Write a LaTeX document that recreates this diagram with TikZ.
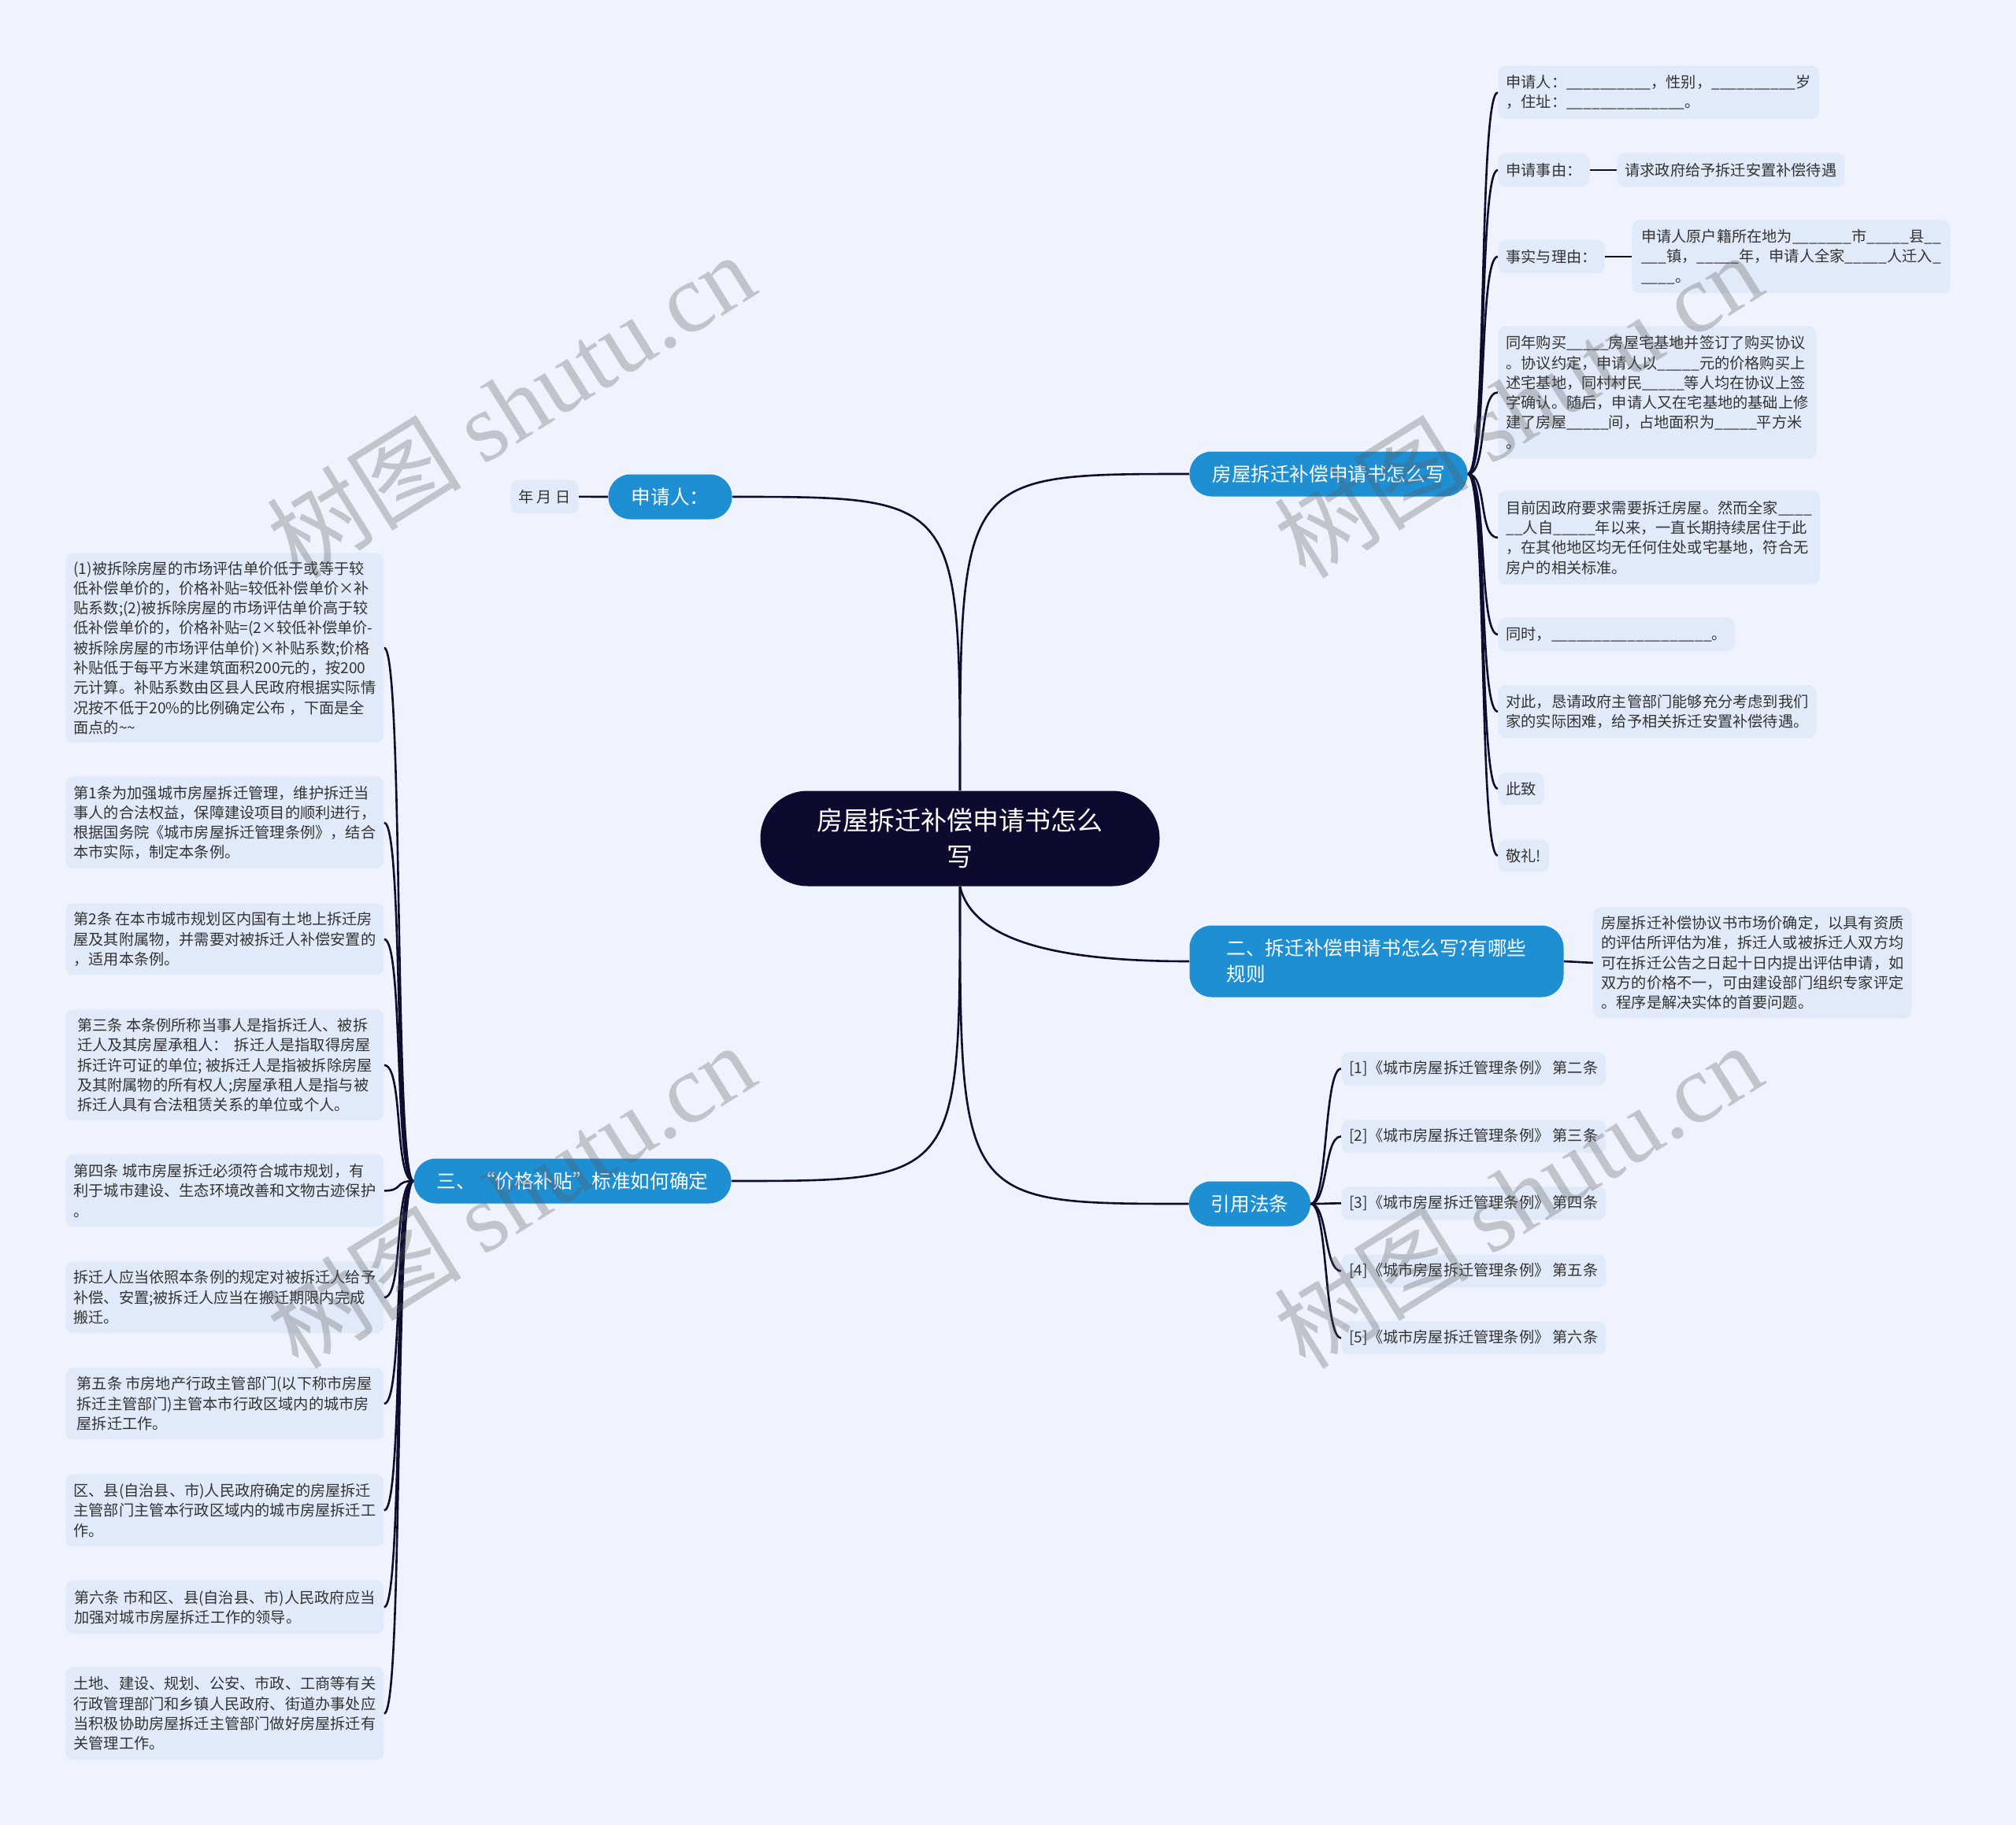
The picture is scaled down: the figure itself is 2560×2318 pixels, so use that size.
\documentclass[tikz,border=0pt]{standalone}
\usepackage{fontspec}
\setmainfont{Noto Sans CJK SC}
\newfontfamily\wmserif{Liberation Serif}
\ExplSyntaxOn
\NewDocumentCommand\blk{m}{\prg_replicate:nn{#1}{\_}}
\ExplSyntaxOff
\definecolor{bgc}{HTML}{EEF3FD}
\definecolor{leafc}{HTML}{E1EAF9}
\definecolor{bluec}{HTML}{1F8FD3}
\definecolor{rootc}{HTML}{0C0A2E}
\definecolor{wirec}{HTML}{0F0C2E}
\definecolor{txtc}{HTML}{333333}
\pgfdeclarelayer{bglayer}
\pgfdeclarelayer{edgelayer}
\pgfsetlayers{bglayer,edgelayer,main}
\tikzset{
 leaf/.style={fill=leafc, rounded corners=5pt, inner xsep=5pt, inner ysep=0pt, anchor=north west, align=left, text=txtc, font=\fontsize{9.6pt}{12.65pt}\selectfont},
 wide/.style={minimum width=202pt},
 branch/.style={fill=bluec, text=white, inner sep=0pt, font=\fontsize{12.3pt}{16.5pt}\selectfont, minimum height=28.5pt, rounded corners=14pt},
 rootnode/.style={fill=rootc, text=white, rounded corners=30pt, minimum width=253.5pt, minimum height=60.5pt, align=center, font=\fontsize{16.5pt}{23pt}\selectfont},
 wire/.style={draw=wirec, line width=1.3pt},
 wmark/.style={text=black!65, opacity=0.3, rotate=32, font=\fontsize{62pt}{62pt}\selectfont}
}
\begin{document}
\begin{tikzpicture}[x=0.5pt,y=-0.5pt]
\useasboundingbox (0,0) rectangle (2560,2318);
\begin{pgfonlayer}{bglayer}
\fill[bgc] (0,0) rectangle (2560,2318);
\end{pgfonlayer}

% root and branches
\node[rootnode] (root) at (1219,1065) {房屋拆迁补偿申请书怎么\\写};
\node[branch, minimum width=176.5pt] (b1) at (1687,602) {房屋拆迁补偿申请书怎么写};
\node[branch, minimum width=237.5pt, minimum height=45.5pt, align=left] (b2) at (1748,1221) {二、拆迁补偿申请书怎么写?有哪些\\规则};
\node[branch, minimum width=77pt] (b3) at (1587,1529) {引用法条};
\node[branch, minimum width=78.5pt] (b4) at (851,631) {申请人：};
\node[branch, minimum width=201.5pt] (b5) at (727,1500) {三、“价格补贴”标准如何确定};

% branch 1 leaves
\node[leaf, wide, minimum height=34pt] (a1) at (1902,83) {申请人：\blk{10}，性别，\blk{10}岁\\，住址：\blk{14}。};
\node[leaf, minimum height=21.5pt] (a2) at (1902,194) {申请事由：};
\node[leaf, minimum height=21.5pt] (a2c) at (2053,194) {请求政府给予拆迁安置补偿待遇};
\node[leaf, minimum height=21.5pt] (a3) at (1902,304) {事实与理由：};
\node[leaf, wide, minimum height=46.5pt] (a3c) at (2072,279) {申请人原户籍所在地为\blk{7}市\blk{5}县\blk{2}\\\blk{3}镇，\blk{5}年，申请人全家\blk{5}人迁入\blk{1}\\\blk{4}。};
\node[leaf, wide, minimum height=84pt] (a4) at (1902,414) {同年购买\blk{5}房屋宅基地并签订了购买协议\\。协议约定，申请人以\blk{5}元的价格购买上\\述宅基地，同村村民\blk{5}等人均在协议上签\\字确认。随后，申请人又在宅基地的基础上修\\建了房屋\blk{5}间，占地面积为\blk{5}平方米\\。};
\node[leaf, wide, minimum height=59.5pt] (a5) at (1902,623) {目前因政府要求需要拆迁房屋。然而全家\blk{4}\\\blk{2}人自\blk{5}年以来，一直长期持续居住于此\\，在其他地区均无任何住处或宅基地，符合无\\房户的相关标准。};
\node[leaf, minimum height=21.5pt] (a6) at (1902,784) {同时，\blk{19}。};
\node[leaf, wide, minimum height=33.5pt] (a7) at (1902,870) {对此，恳请政府主管部门能够充分考虑到我们\\家的实际困难，给予相关拆迁安置补偿待遇。};
\node[leaf, minimum height=20.5pt] (a8) at (1902,981) {此致};
\node[leaf, minimum height=20.5pt] (a9) at (1902,1066) {敬礼!};

% branch 2 leaf
\node[leaf, wide, minimum height=70.5pt] (c1) at (2023,1152) {房屋拆迁补偿协议书市场价确定，以具有资质\\的评估所评估为准，拆迁人或被拆迁人双方均\\可在拆迁公告之日起十日内提出评估申请，如\\双方的价格不一，可由建设部门组织专家评定\\。程序是解决实体的首要问题。};

% branch 3 leaves
\node[leaf, minimum height=21pt] (r1) at (1703,1336) {[1]《城市房屋拆迁管理条例》 第二条};
\node[leaf, minimum height=21pt] (r2) at (1703,1422) {[2]《城市房屋拆迁管理条例》 第三条};
\node[leaf, minimum height=21pt] (r3) at (1703,1507) {[3]《城市房屋拆迁管理条例》 第四条};
\node[leaf, minimum height=21pt] (r4) at (1703,1593) {[4]《城市房屋拆迁管理条例》 第五条};
\node[leaf, minimum height=21pt] (r5) at (1703,1678) {[5]《城市房屋拆迁管理条例》 第六条};

% branch 4 leaf
\node[leaf, minimum height=21.5pt] (yr) at (648,609) {年 月 日};

% branch 5 leaves
\node[leaf, wide, minimum height=120.5pt] (l1) at (83,702) {(1)被拆除房屋的市场评估单价低于或等于较\\低补偿单价的，价格补贴=较低补偿单价×补\\贴系数;(2)被拆除房屋的市场评估单价高于较\\低补偿单价的，价格补贴=(2×较低补偿单价-\\被拆除房屋的市场评估单价)×补贴系数;价格\\补贴低于每平方米建筑面积200元的，按200\\元计算。补贴系数由区县人民政府根据实际情\\况按不低于20\%的比例确定公布 ，下面是全\\面点的\textasciitilde\textasciitilde};
\node[leaf, wide, minimum height=58.5pt] (l2) at (83,986) {第1条为加强城市房屋拆迁管理，维护拆迁当\\事人的合法权益，保障建设项目的顺利进行，\\根据国务院《城市房屋拆迁管理条例》，结合\\本市实际，制定本条例。};
\node[leaf, wide, minimum height=45.5pt] (l3) at (83,1147) {第2条 在本市城市规划区内国有土地上拆迁房\\屋及其附属物，并需要对被拆迁人补偿安置的\\，适用本条例。};
\node[leaf, wide, minimum height=70.5pt] (l4) at (83,1282) {第三条 本条例所称当事人是指拆迁人、被拆\\迁人及其房屋承租人：\hspace{0.4em}拆迁人是指取得房屋\\拆迁许可证的单位; 被拆迁人是指被拆除房屋\\及其附属物的所有权人;房屋承租人是指与被\\拆迁人具有合法租赁关系的单位或个人。};
\node[leaf, wide, minimum height=46pt] (l5) at (83,1466) {第四条 城市房屋拆迁必须符合城市规划，有\\利于城市建设、生态环境改善和文物古迹保护\\。};
\node[leaf, wide, minimum height=45.5pt] (l6) at (83,1602) {拆迁人应当依照本条例的规定对被拆迁人给予\\补偿、安置;被拆迁人应当在搬迁期限内完成\\搬迁。};
\node[leaf, wide, minimum height=45.5pt] (l7) at (83,1737) {第五条 市房地产行政主管部门(以下称市房屋\\拆迁主管部门)主管本市行政区域内的城市房\\屋拆迁工作。};
\node[leaf, wide, minimum height=46pt] (l8) at (83,1872) {区、县(自治县、市)人民政府确定的房屋拆迁\\主管部门主管本行政区域内的城市房屋拆迁工\\作。};
\node[leaf, wide, minimum height=34pt] (l9) at (83,2007) {第六条 市和区、县(自治县、市)人民政府应当\\加强对城市房屋拆迁工作的领导。};
\node[leaf, wide, minimum height=59pt] (l10) at (83,2117) {土地、建设、规划、公安、市政、工商等有关\\行政管理部门和乡镇人民政府、街道办事处应\\当积极协助房屋拆迁主管部门做好房屋拆迁有\\关管理工作。};

% connectors
\begin{pgfonlayer}{edgelayer}
\draw[wire] (root.north) .. controls (root.north |- b1.west) .. (b1.west);
\draw[wire] (root.north) .. controls (root.north |- b4.east) .. (b4.east);
\draw[wire] (root.south) .. controls +(18,75) and +(-150,0) .. (b2.west);
\draw[wire] (root.south) .. controls (root.south |- b3.west) .. (b3.west);
\draw[wire] (root.south) .. controls (root.south |- b5.east) .. (b5.east);
\foreach \n in {a1,a2,a3,a4,a5,a6,a7,a8,a9}
  \draw[wire] (b1.east) .. controls +(25,0) and +(-25,0) .. (\n.west);
\draw[wire] (a2.east) -- (a2c.west);
\draw[wire] (a3.east) -- (a3c.west);
\draw[wire] (b2.east) -- (c1.west);
\foreach \n in {r1,r2,r3,r4,r5}
  \draw[wire] (b3.east) .. controls +(22,0) and +(-22,0) .. (\n.west);
\draw[wire] (yr.east) -- (b4.west);
\foreach \n in {l1,l2,l3,l4,l5,l6,l7,l8,l9,l10}
  \draw[wire] (b5.west) .. controls +(-25,0) and +(25,0) .. (\n.east);
\end{pgfonlayer}

% watermarks
\node[wmark] (w1) at (648,514) {树图 {\wmserif shutu.cn}};
\node[wmark] (w2) at (1927,514) {树图 {\wmserif shutu.cn}};
\node[wmark] (w3) at (648,1518) {树图 {\wmserif shutu.cn}};
\node[wmark] (w4) at (1927,1518) {树图 {\wmserif shutu.cn}};
\end{tikzpicture}
\end{document}
